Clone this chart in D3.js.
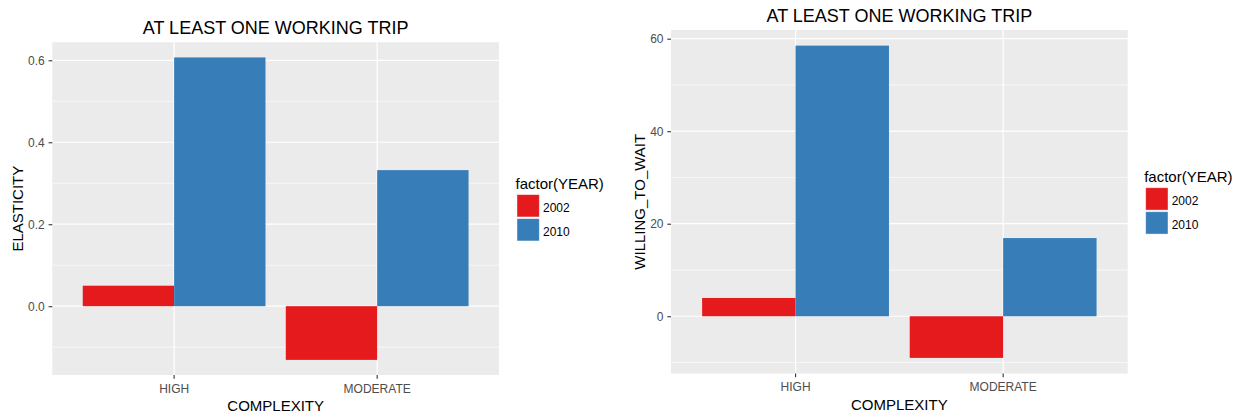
<!DOCTYPE html>
<html>
<head>
<meta charset="utf-8">
<script src="https://cdn.jsdelivr.net/npm/d3@7"></script>
<style>
  html, body { margin: 0; padding: 0; background: #ffffff; }
  svg { display: block; font-family: "Liberation Sans", Arial, Helvetica, sans-serif; }
</style>
</head>
<body>
<svg id="chart" width="1241" height="415"></svg>
<script>
// Categories and series
const categories = ["HIGH", "MODERATE"];
const years = ["2002", "2010"];
const yearColors = ["#E41A1C", "#377EB8"];

// Left panel: ELASTICITY
const elasticity2002 = [0.05, -0.131];
const elasticity2010 = [0.607, 0.332];
const elasticityTicks = [0, 0.2, 0.4, 0.6];
const elasticityMinor = [-0.1, 0.1, 0.3, 0.5];

// Right panel: WILLING_TO_WAIT
const wait2002 = [3.95, -9.0];
const wait2010 = [58.5, 16.9];
const waitTicks = [0, 20, 40, 60];
const waitMinor = [-10, 10, 30, 50];

const svg = d3.select("#chart");
svg.append("rect").attr("width", 1241).attr("height", 415).attr("fill", "#ffffff");

function drawPanel(cfg) {
  const { left, right, top, bottom } = cfg.box;
  const g = svg.append("g");

  const rows = categories.map((c, i) => ({
    category: c,
    values: years.map((y, j) => ({ year: y, color: yearColors[j], value: cfg.series[j][i] }))
  }));

  // y domain with a 5% expansion on each side
  const all = cfg.series.flat();
  const [lo, hi] = d3.extent(all);
  const pad = (hi - lo) * 0.05;
  const y = d3.scaleLinear().domain([lo - pad, hi + pad]).range([bottom, top]);

  // discrete x: group width 0.9, 0.6 units of space at each end
  const x = d3.scaleBand().domain(categories).range([left, right])
    .paddingInner(0.1).paddingOuter(0.15);
  const xInner = d3.scaleBand().domain(years).range([0, x.bandwidth()]);

  // panel background
  g.append("rect")
    .attr("x", left).attr("y", top)
    .attr("width", right - left).attr("height", bottom - top)
    .attr("fill", "#EBEBEB");

  // minor grid
  g.selectAll(".minor").data(cfg.minor).join("line")
    .attr("x1", left).attr("x2", right)
    .attr("y1", d => y(d)).attr("y2", d => y(d))
    .attr("stroke", "#ffffff").attr("stroke-width", 0.6);

  // major grid
  g.selectAll(".major").data(cfg.ticks).join("line")
    .attr("x1", left).attr("x2", right)
    .attr("y1", d => y(d)).attr("y2", d => y(d))
    .attr("stroke", "#ffffff").attr("stroke-width", 1.2);

  g.selectAll(".vmajor").data(categories).join("line")
    .attr("x1", d => x(d) + x.bandwidth() / 2).attr("x2", d => x(d) + x.bandwidth() / 2)
    .attr("y1", top).attr("y2", bottom)
    .attr("stroke", "#ffffff").attr("stroke-width", 1.2);

  // bars
  const groups = g.selectAll(".grp").data(rows).join("g")
    .attr("transform", d => `translate(${x(d.category)},0)`);
  groups.selectAll("rect").data(d => d.values).join("rect")
    .attr("x", d => xInner(d.year))
    .attr("width", xInner.bandwidth())
    .attr("y", d => y(Math.max(0, d.value)))
    .attr("height", d => Math.abs(y(d.value) - y(0)))
    .attr("fill", d => d.color);

  // y axis
  const yAxis = g.append("g")
    .attr("transform", `translate(${left},0)`)
    .call(d3.axisLeft(y).tickValues(cfg.ticks).tickFormat(cfg.format)
      .tickSize(3.7).tickPadding(3.8));
  yAxis.select(".domain").remove();
  yAxis.selectAll(".tick line").attr("stroke", "#333333").attr("stroke-width", 1.1);
  yAxis.selectAll(".tick text").attr("fill", "#4D4D4D")
    .style("font-size", "12px").style("font-family", "'Liberation Sans', Arial, sans-serif");

  // x axis
  const xAxis = g.append("g")
    .attr("transform", `translate(0,${bottom})`)
    .call(d3.axisBottom(x).tickSize(3.7).tickPadding(5.3));
  xAxis.select(".domain").remove();
  xAxis.selectAll(".tick line").attr("stroke", "#333333").attr("stroke-width", 1.1);
  xAxis.selectAll(".tick text").attr("fill", "#4D4D4D")
    .style("font-size", "12px").style("font-family", "'Liberation Sans', Arial, sans-serif");

  // title
  g.append("text")
    .attr("x", (left + right) / 2).attr("y", top - 8)
    .attr("text-anchor", "middle")
    .attr("fill", "#000000")
    .style("font-size", "18px")
    .text(cfg.title);

  // x axis title
  g.append("text")
    .attr("x", (left + right) / 2).attr("y", bottom + 36.3)
    .attr("text-anchor", "middle")
    .attr("fill", "#000000")
    .style("font-size", "15px")
    .text(cfg.xTitle);

  // y axis title, placed just outside the widest tick label
  let minX = Infinity;
  yAxis.selectAll(".tick text").each(function () {
    const b = this.getBBox();
    minX = Math.min(minX, left + b.x);
  });
  const yt = minX - 5;
  g.append("text")
    .attr("transform", `translate(${yt},${(top + bottom) / 2}) rotate(-90)`)
    .attr("text-anchor", "middle")
    .attr("fill", "#000000")
    .style("font-size", "15px")
    .text(cfg.yTitle);

  // legend
  const cy = (top + bottom) / 2;
  const lx = right + 16.5;
  const lg = g.append("g");
  lg.append("text")
    .attr("x", lx).attr("y", cy - 19.8)
    .attr("fill", "#000000")
    .style("font-size", "15px")
    .text("factor(YEAR)");
  years.forEach((yr, j) => {
    const ky = cy - 14 + j * 24;
    lg.append("rect")
      .attr("x", lx + 1.5).attr("y", ky)
      .attr("width", 22.3).attr("height", 22.3)
      .attr("fill", yearColors[j])
      .attr("stroke", "#ffffff").attr("stroke-opacity", 0.5).attr("stroke-width", 0.8);
    lg.append("text")
      .attr("x", lx + 27.5).attr("y", ky + 17.2)
      .attr("fill", "#000000")
      .style("font-size", "12px")
      .text(yr);
  });
}

drawPanel({
  box: { left: 52.3, right: 499, top: 42.3, bottom: 375 },
  series: [elasticity2002, elasticity2010],
  ticks: elasticityTicks,
  minor: elasticityMinor,
  format: d3.format(".1f"),
  title: "AT LEAST ONE WORKING TRIP",
  xTitle: "COMPLEXITY",
  yTitle: "ELASTICITY"
});

drawPanel({
  box: { left: 671, right: 1127.7, top: 30, bottom: 373.5 },
  series: [wait2002, wait2010],
  ticks: waitTicks,
  minor: waitMinor,
  format: d3.format("d"),
  title: "AT LEAST ONE WORKING TRIP",
  xTitle: "COMPLEXITY",
  yTitle: "WILLING_TO_WAIT"
});
</script>
</body>
</html>
